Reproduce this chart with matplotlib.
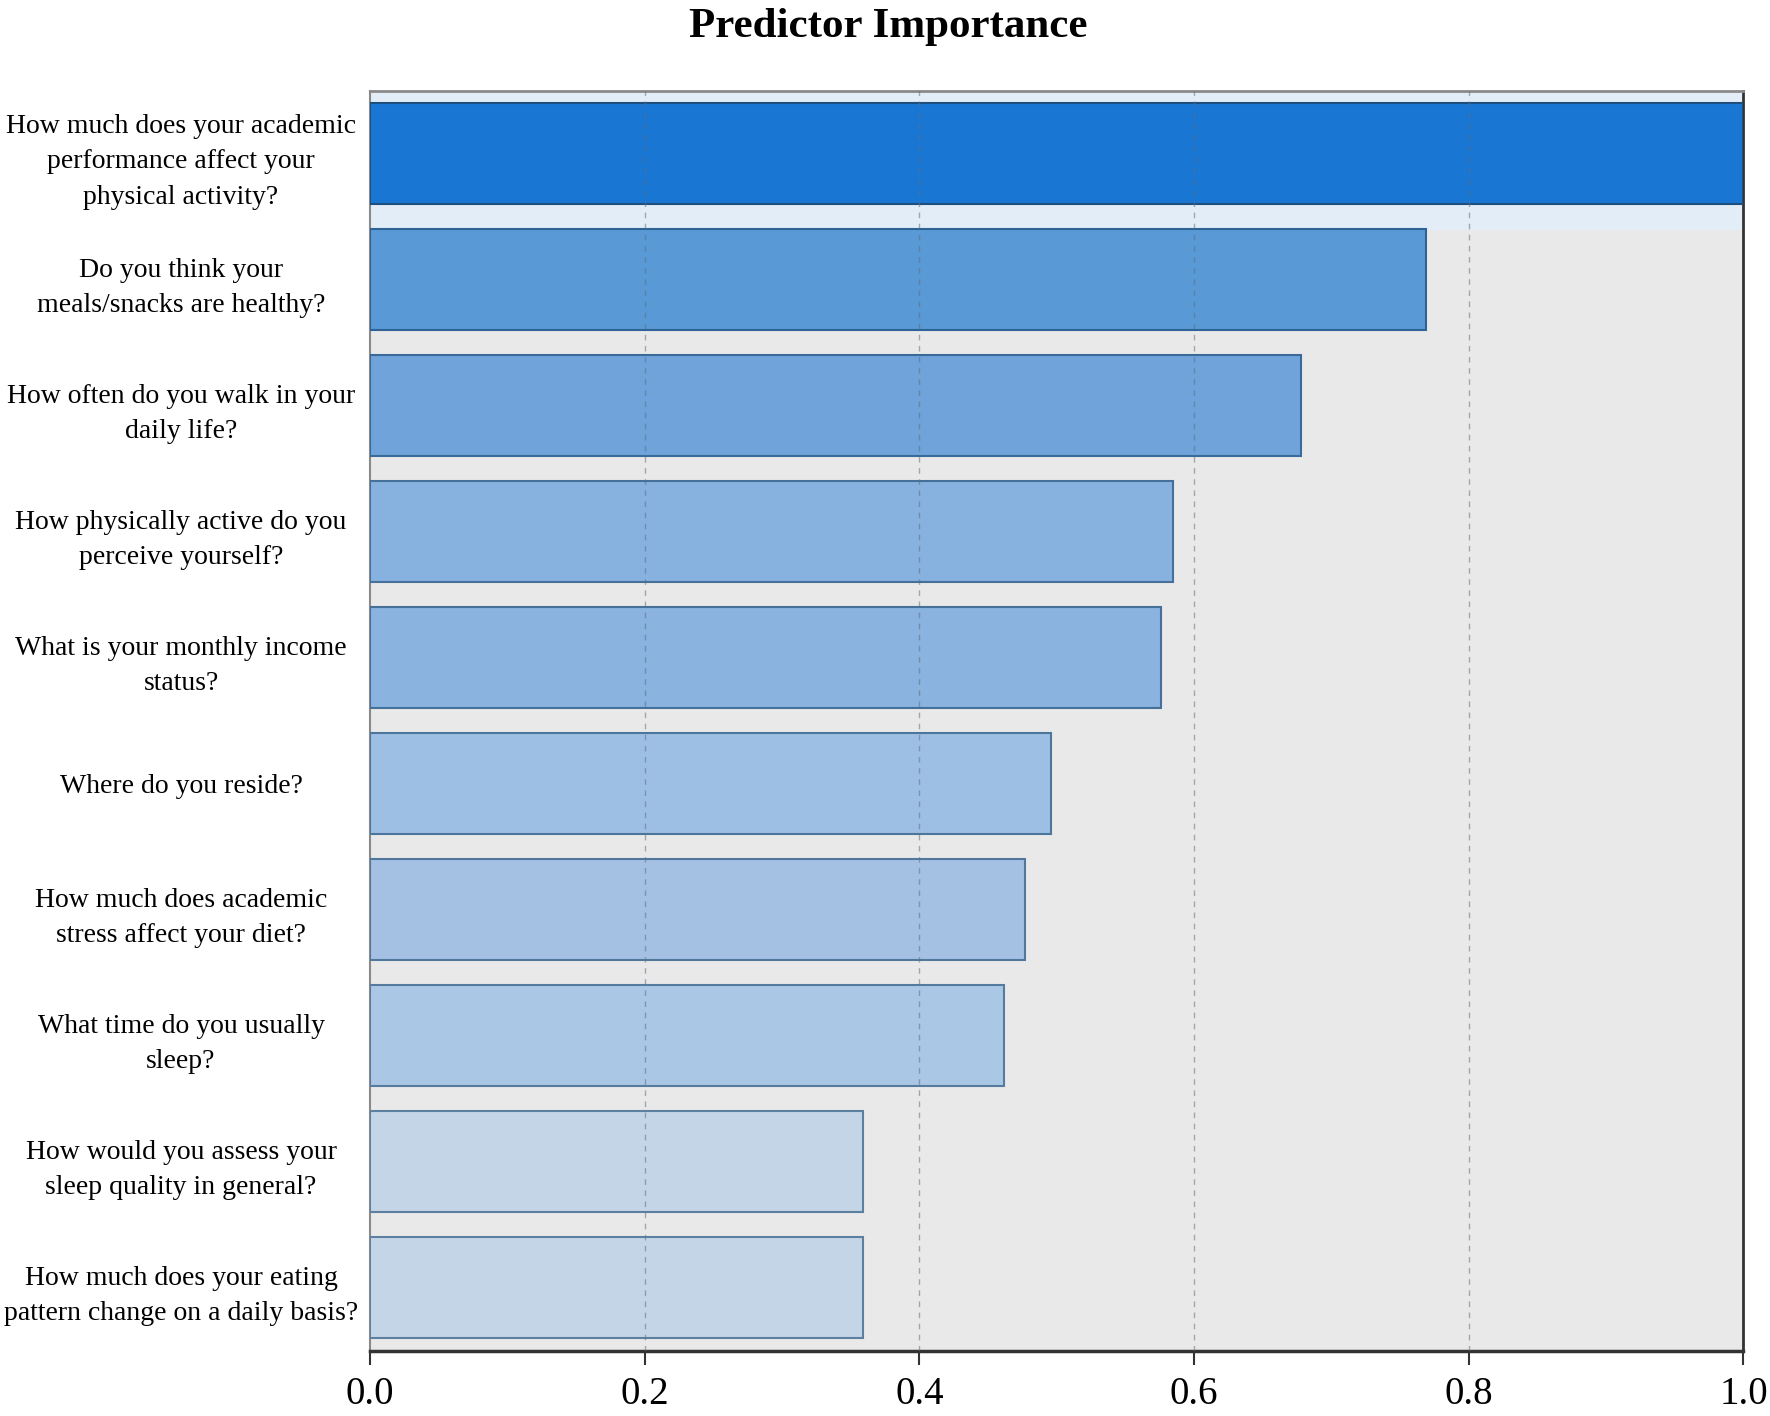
import matplotlib
matplotlib.use("Agg")
import matplotlib.pyplot as plt

questions = [
    "How much does your academic\nperformance affect your\nphysical activity?",
    "Do you think your\nmeals/snacks are healthy?",
    "How often do you walk in your\ndaily life?",
    "How physically active do you\nperceive yourself?",
    "What is your monthly income\nstatus?",
    "Where do you reside?",
    "How much does academic\nstress affect your diet?",
    "What time do you usually\nsleep?",
    "How would you assess your\nsleep quality in general?",
    "How much does your eating\npattern change on a daily basis?",
]
importance = [1.0, 0.769, 0.678, 0.585, 0.576, 0.496, 0.477, 0.462, 0.359, 0.359]
bar_colors = ["#1976d2", "#5899d6", "#6fa3da", "#87b1de", "#8ab3df",
              "#9ebfe4", "#a4c1e3", "#abc7e6", "#c5d5e8", "#c5d5e8"]
edge_colors = ["#1d4f7e", "#2f6395", "#3a6a98", "#44709a", "#44709a",
               "#4d769c", "#50789d", "#557c9f", "#5e80a0", "#5e80a0"]
xticks = [0.0, 0.2, 0.4, 0.6, 0.8, 1.0]

plt.rcParams["font.family"] = ["Liberation Serif", "DejaVu Serif"]

fig = plt.figure(figsize=(17.7, 14.16), dpi=100)
ax = fig.add_axes([0.209, 0.046, 0.776, 0.890])
ax.set_facecolor("#e9e9e9")

pos = list(range(len(questions)))
ax.axhspan(-0.5, 0.6, color="#e2edf7", zorder=0)
ax.barh(pos, importance, height=0.8, color=bar_colors, edgecolor=edge_colors,
        linewidth=1.5, zorder=3)

ax.set_xlim(0, 1.0)
ax.set_ylim(9.5, -0.5)

# dashed grid shows faintly through the bars
for x in xticks[1:-1]:
    ax.axvline(x, color="#5f6f80", linestyle=(0, (4, 4)), linewidth=1.0,
               alpha=0.55, zorder=4)

ax.set_xticks(xticks)
ax.set_xticklabels([f"{x:.1f}" for x in xticks], fontsize=28)
ax.tick_params(axis="x", direction="out", length=10, width=1.5, color="#333333", pad=8)

ax.set_yticks(pos)
ax.set_yticklabels(questions, fontsize=20, ha="center", multialignment="center",
                   linespacing=1.55)
ax.tick_params(axis="y", length=0, pad=136)

ax.spines["top"].set_color("#8a8a8a")
ax.spines["top"].set_linewidth(2)
ax.spines["left"].set_color("#8a8a8a")
ax.spines["left"].set_linewidth(1.5)
ax.spines["right"].set_color("#333333")
ax.spines["right"].set_linewidth(2)
ax.spines["bottom"].set_color("#333333")
ax.spines["bottom"].set_linewidth(2.5)

fig.text(0.502, 0.981, "Predictor Importance", ha="center", va="center",
         fontsize=31, fontweight="bold")

fig.savefig("out.png", dpi=100)
